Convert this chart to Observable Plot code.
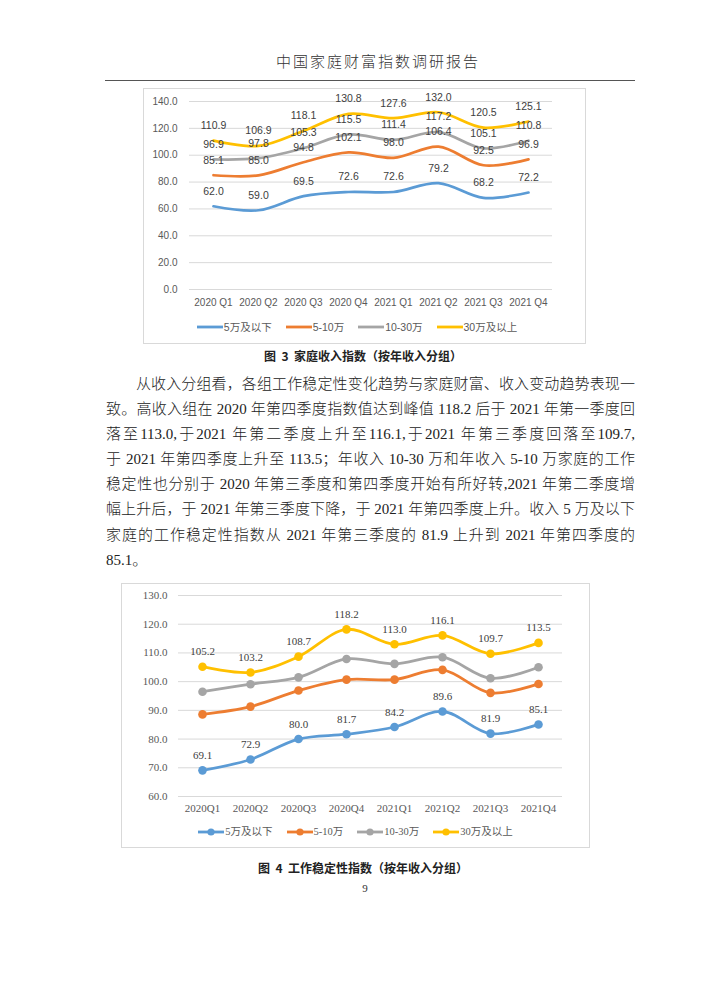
<!DOCTYPE html>
<html><head><meta charset="utf-8">
<script src="https://cdn.jsdelivr.net/npm/d3@7"></script>
<script src="https://cdn.jsdelivr.net/npm/@observablehq/plot@0.6"></script>
<style>
html,body{margin:0;padding:0;background:#fff;}
#page{position:relative;width:710px;height:1004px;overflow:hidden;background:#fff;}
.abs{position:absolute;}
.header{left:22px;width:710px;top:51px;text-align:center;font-family:"Noto Sans CJK SC";font-size:15px;letter-spacing:2px;padding-left:2px;box-sizing:border-box;color:#333;font-weight:300;line-height:20px;}
.rule{left:105px;top:80px;width:530px;height:0;border-top:1.6px solid #555;}
.box{border:1px solid #d9d9d9;box-sizing:border-box;background:#fff;}
.legend{display:flex;justify-content:center;align-items:center;gap:14px;color:#595959;line-height:14px;}
.legend .item{display:flex;align-items:center;white-space:nowrap;}
.para{left:106px;width:529px;font-family:"Liberation Serif","Noto Sans CJK SC";font-weight:300;font-size:15px;color:#222;line-height:20px;text-align:justify;text-align-last:justify;white-space:nowrap;}
.para.last{text-align-last:left;}
.caption{left:213px;width:300px;text-align:center;font-family:"Noto Sans CJK SC";font-weight:700;font-size:12px;color:#222;line-height:16px;white-space:pre;}
.pnum{left:315px;width:100px;text-align:center;font-family:"Liberation Serif";font-size:11px;color:#333;line-height:14px;}
svg{overflow:visible;}
</style>
</head><body>
<div id="page"></div>
<script>
// ---------- data ----------
const groups = ["5万及以下", "5-10万", "10-30万", "30万及以上"];
const colors = ["#5B9BD5", "#ED7D31", "#A5A5A5", "#FFC000"];

// Figure 3: household income index
const quarters1 = ["2020 Q1", "2020 Q2", "2020 Q3", "2020 Q4", "2021 Q1", "2021 Q2", "2021 Q3", "2021 Q4"];
const income_low   = [62.0, 59.0, 69.5, 72.6, 72.6, 79.2, 68.2, 72.2];
const income_mid   = [85.1, 85.0, 94.8, 102.1, 98.0, 106.4, 92.5, 96.9];
const income_upper = [96.9, 97.8, 105.3, 115.5, 111.4, 117.2, 105.1, 110.8];
const income_high  = [110.9, 106.9, 118.1, 130.8, 127.6, 132.0, 120.5, 125.1];
const yTicks1 = [0, 20, 40, 60, 80, 100, 120, 140];

// Figure 4: job stability index
const quarters2 = ["2020Q1", "2020Q2", "2020Q3", "2020Q4", "2021Q1", "2021Q2", "2021Q3", "2021Q4"];
const job_low   = [69.1, 72.9, 80.0, 81.7, 84.2, 89.6, 81.9, 85.1];
const job_mid   = [88.6, 91.3, 96.9, 100.7, 100.7, 104.1, 96.1, 99.2];
const job_upper = [96.5, 99.1, 101.5, 107.9, 106.2, 108.5, 101.2, 105.0];
const job_high  = [105.2, 103.2, 108.7, 118.2, 113.0, 116.1, 109.7, 113.5];
const yTicks2 = [60, 70, 80, 90, 100, 110, 120, 130];
const labeled2 = ["5万及以下", "30万及以上"];

// ---------- texts ----------
const headerText = "中国家庭财富指数调研报告";
const caption1 = "图  3  家庭收入指数（按年收入分组）";
const caption2 = "图  4  工作稳定性指数（按年收入分组）";
const paraLines = [
  "从收入分组看，各组工作稳定性变化趋势与家庭财富、收入变动趋势表现一",
  "致。高收入组在 2020 年第四季度指数值达到峰值 118.2 后于 2021 年第一季度回",
  "落至113.0,于2021 年第二季度上升至116.1,于2021 年第三季度回落至109.7,",
  "于 2021 年第四季度上升至 113.5；年收入 10-30 万和年收入 5-10 万家庭的工作",
  "稳定性也分别于 2020 年第三季度和第四季度开始有所好转,2021 年第二季度增",
  "幅上升后，于 2021 年第三季度下降，于 2021 年第四季度上升。收入 5 万及以下",
  "家庭的工作稳定性指数从 2021 年第三季度的 81.9 上升到 2021 年第四季度的",
  "85.1。"
];
const pageNumber = "9";

// ---------- helpers ----------
const page = document.getElementById("page");
function el(cls, css, html) {
  const d = document.createElement("div");
  d.className = "abs " + cls;
  Object.assign(d.style, css || {});
  if (html != null) d.textContent = html;
  page.appendChild(d);
  return d;
}
function tidy(quarters, series) {
  const rows = [];
  series.forEach(([g, vals]) => vals.forEach((v, i) => rows.push({q: quarters[i], g, v})));
  return rows;
}
function legend(left, width, top, font, withDot) {
  const lg = el("legend", {left: left + "px", width: width + "px", top: top + "px", fontFamily: font, fontSize: "10.5px"});
  groups.forEach((g, i) => {
    const it = document.createElement("div");
    it.className = "item";
    const sw = document.createElementNS("http://www.w3.org/2000/svg", "svg");
    sw.setAttribute("width", 27); sw.setAttribute("height", 10);
    sw.innerHTML = `<line x1="0" x2="26" y1="5" y2="5" stroke="${colors[i]}" stroke-width="2.8"/>` +
      (withDot ? `<circle cx="13" cy="5" r="3.6" fill="${colors[i]}"/>` : "");
    it.appendChild(sw);
    const t = document.createElement("span");
    t.textContent = g;
    it.appendChild(t);
    lg.appendChild(it);
  });
}

// ---------- page furniture ----------
el("header", {}, headerText);
el("rule", {});

// ---------- chart 1 ----------
el("box", {left: "143px", top: "88px", width: "443px", height: "256px"});
const data1 = tidy(quarters1, [[groups[0], income_low], [groups[1], income_mid], [groups[2], income_upper], [groups[3], income_high]]);
const chart1 = Plot.plot({
  width: 420, height: 224,
  marginLeft: 44, marginRight: 13, marginTop: 12, marginBottom: 24,
  style: {fontFamily: "Liberation Sans, Noto Sans CJK SC", fontSize: "10px", color: "#595959", background: "transparent", overflow: "visible"},
  x: {type: "point", domain: quarters1, padding: 0.5, label: null, axis: null},
  y: {domain: [0, 140], label: null, axis: null},
  color: {domain: groups, range: colors},
  marks: [
    Plot.gridY(yTicks1, {stroke: "#d9d9d9", strokeOpacity: 1}),
    Plot.axisY(yTicks1, {tickSize: 0, tickPadding: 12, tickFormat: d => d.toFixed(1), fontSize: 10, label: null}),
    Plot.axisX({tickSize: 0, tickPadding: 9, fontSize: 10, label: null}),
    Plot.line(data1, {x: "q", y: "v", z: "g", stroke: "g", curve: "catmull-rom", strokeWidth: 2.7}),
    Plot.text(data1, {x: "q", y: "v", text: d => d.v.toFixed(1), dy: -15, fill: "#404040", fontSize: 10.5})
  ]
});
Object.assign(chart1.style, {position: "absolute", left: "145px", top: "89px"});
page.appendChild(chart1);
legend(147, 420, 320, "Liberation Sans, Noto Sans CJK SC", false);

el("caption", {top: "348px"}, caption1);

// ---------- paragraph ----------
const lineTops = [374, 399, 424, 449, 474, 499, 525, 550];
paraLines.forEach((t, i) => {
  const d = el("para" + (i === paraLines.length - 1 ? " last" : ""), {top: lineTops[i] + "px"}, t);
  if (i === 0) { d.style.left = "136px"; d.style.width = "499px"; }
});

// ---------- chart 2 ----------
el("box", {left: "121px", top: "583px", width: "469px", height: "265px"});
const data2 = tidy(quarters2, [[groups[0], job_low], [groups[1], job_mid], [groups[2], job_upper], [groups[3], job_high]]);
const chart2 = Plot.plot({
  width: 439, height: 238,
  marginLeft: 43, marginRight: 12, marginTop: 13, marginBottom: 24,
  style: {fontFamily: "Liberation Serif, Noto Sans CJK SC", fontSize: "11px", color: "#595959", background: "transparent", overflow: "visible"},
  x: {type: "point", domain: quarters2, padding: 0.5, label: null, axis: null},
  y: {domain: [60, 130], label: null, axis: null},
  color: {domain: groups, range: colors},
  marks: [
    Plot.gridY(yTicks2, {stroke: "#d9d9d9", strokeOpacity: 1}),
    Plot.axisY(yTicks2, {tickSize: 0, tickPadding: 11, tickFormat: d => d.toFixed(1), fontSize: 11, label: null}),
    Plot.axisX({tickSize: 0, tickPadding: 8, fontSize: 11, label: null}),
    Plot.line(data2, {x: "q", y: "v", z: "g", stroke: "g", curve: "catmull-rom", strokeWidth: 2.8}),
    Plot.dot(data2, {x: "q", y: "v", fill: "g", r: 4.3}),
    Plot.text(data2.filter(d => labeled2.includes(d.g)), {x: "q", y: "v", text: d => d.v.toFixed(1), dy: -15, fill: "#404040", fontSize: 11})
  ]
});
Object.assign(chart2.style, {position: "absolute", left: "135px", top: "582px"});
page.appendChild(chart2);
legend(137, 437, 825, "Liberation Serif, Noto Sans CJK SC", true);

el("caption", {top: "860px"}, caption2);
el("pnum", {top: "881px"}, pageNumber);
</script>
</body></html>
